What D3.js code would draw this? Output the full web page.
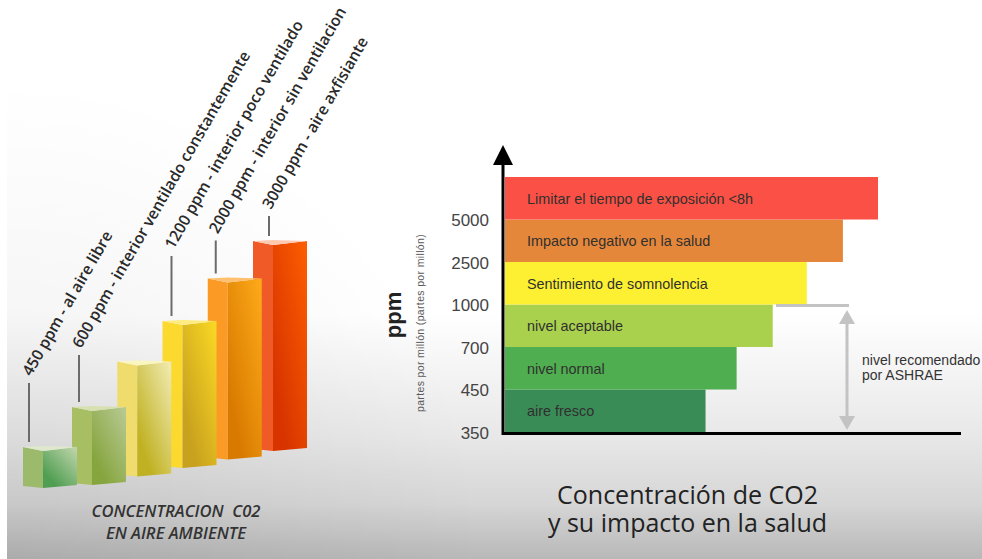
<!DOCTYPE html>
<html lang="es">
<head>
<meta charset="utf-8">
<title>Concentración de CO2</title>
<script src="https://cdn.jsdelivr.net/npm/d3@7/dist/d3.min.js"></script>
<style>
  html, body { margin: 0; padding: 0; background: #fff; }
  svg { display: block; }
  .sans { font-family: "Open Sans", sans-serif; }
  .arial { font-family: "Liberation Sans", Arial, sans-serif; }
</style>
</head>
<body>
<svg id="chart" width="982" height="559"></svg>
<script>
// Outdoor and indoor CO2 bars (left panel)
const barPpm = [450, 600, 900, 1200, 2000, 3000];
const barLeftColors = ["#9cba6c", "#a8be62", "#efdc6c", "#fbd92e", "#fc9a26", "#f05a26"];
const barTopColors = ["#bcd3a8", "#b6c890", "#efe9ac", "#f8d624", "#fca818", "#fb5c00"];
const barBottomColors = ["#4f9e52", "#86a53e", "#c0b122", "#c8a11e", "#d87a00", "#d83400"];
const barRimColors = ["#dfe8cc", "#d6e0b0", "#fbf5c0", "#ffec80", "#ffc070", "#ffc8b0"];
const ppmNotes = [
  "450 ppm - al aire libre",
  "600 ppm - interior ventilado constantemente",
  "1200 ppm - interior poco ventilado",
  "2000 ppm - interior sin ventilacion",
  "3000 ppm - aire axfisiante"
];
const notedPpm = [450, 600, 1200, 2000, 3000];
const leaderLengths = [59, 47, 60, 33, 20];
const panelCaption = ["CONCENTRACION  C02", "EN AIRE AMBIENTE"];

// Health impact levels (right panel), listed from the bottom band upward
const levelNames = [
  "aire fresco", "nivel normal", "nivel aceptable",
  "Sentimiento de somnolencia", "Impacto negativo en la salud",
  "Limitar el tiempo de exposición <8h"
];
const levelReach = [200, 231, 267, 301, 337, 372];
const levelColors = ["#3a8c57", "#4fae4f", "#aad14d", "#fdf032", "#e5873a", "#fb5045"];
const ppmTicks = ["350", "450", "700", "1000", "2500", "5000"];
const ashraeNote = ["nivel recomendado", "por ASHRAE"];
const chartTitle = ["Concentración de CO2", "y su impacto en la salud"];

const svg = d3.select("#chart");
const defs = svg.append("defs");

// Backdrop fading to grey toward the bottom of the frame
const backdrop = defs.append("linearGradient").attr("id", "backdrop")
  .attr("x1", 0).attr("y1", 0).attr("x2", 0).attr("y2", 1);
[[0, "#ffffff"], [0.56, "#ffffff"], [0.78, "#e8e8e8"], [0.9, "#d6d6d6"], [1, "#b8b8b8"]]
  .forEach(([o, c]) => backdrop.append("stop").attr("offset", o).attr("stop-color", c));
svg.append("rect").attr("x", 7).attr("y", 0).attr("width", 975).attr("height", 559)
  .attr("fill", "url(#backdrop)");

// Slightly deeper shade in the lower left corner
const corner = defs.append("radialGradient").attr("id", "corner")
  .attr("gradientUnits", "userSpaceOnUse").attr("cx", 7).attr("cy", 559).attr("r", 480);
corner.append("stop").attr("offset", 0).attr("stop-color", "#000").attr("stop-opacity", 0.07);
corner.append("stop").attr("offset", 1).attr("stop-color", "#000").attr("stop-opacity", 0);
svg.append("rect").attr("x", 7).attr("y", 79).attr("width", 975).attr("height", 480)
  .attr("fill", "url(#corner)");

// Left panel scales: slot position and floor line run along the perspective
const slot = d3.scaleLinear().domain([0, 1, 5]).range([23, 72, 253]);
const floorY = d3.scaleLinear().domain([0, 1, 5]).range([486, 483, 449]);
const barHeight = d3.scaleLinear().domain(barPpm).range([39, 76, 113, 145, 179, 208]);
const leftFace = 20, rightFace = 34, dip = 4;

const bars = barPpm.map((ppm, i) => ({ ppm, i })).reverse();

bars.forEach(d => {
  const g = defs.append("linearGradient").attr("id", "face" + d.i)
    .attr("x1", 0.9).attr("y1", 0).attr("x2", 0.2).attr("y2", 0.8);
  g.append("stop").attr("offset", 0).attr("stop-color", barTopColors[d.i]);
  g.append("stop").attr("offset", 1).attr("stop-color", barBottomColors[d.i]);
});

const barGroups = svg.append("g").selectAll("g").data(bars).join("g");
const polyPoints = pts => pts.map(p => p.join(",")).join(" ");

barGroups.append("polygon").attr("fill", d => barLeftColors[d.i])
  .attr("points", d => {
    const x = slot(d.i), y = floorY(d.i), h = barHeight(d.ppm);
    return polyPoints([[x, y - h], [x + leftFace, y - h + dip], [x + leftFace, y + 2], [x, y]]);
  });
barGroups.append("polygon").attr("fill", d => `url(#face${d.i})`)
  .attr("points", d => {
    const x = slot(d.i), y = floorY(d.i), h = barHeight(d.ppm);
    return polyPoints([[x + leftFace, y - h + dip], [x + leftFace + rightFace, y - h],
      [x + leftFace + rightFace, y - 1], [x + leftFace, y + 2]]);
  });
barGroups.append("polygon").attr("fill", d => barRimColors[d.i])
  .attr("points", d => {
    const x = slot(d.i), y = floorY(d.i), h = barHeight(d.ppm);
    return polyPoints([[x, y - h], [x + leftFace, y - h - 1], [x + leftFace + rightFace, y - h],
      [x + leftFace, y - h + dip]]);
  });

// Leader lines and slanted notes above the bars
const notes = notedPpm.map((ppm, n) => {
  const i = barPpm.indexOf(ppm);
  return { ppm, i, text: ppmNotes[n], len: leaderLengths[n] };
});
const leaderX = d => slot(d.i) + (d.i === 0 ? 6 : d.i === 1 ? 7 : d.i === 3 ? 9 : d.i === 4 ? 8 : 16);
const leaderBase = d => floorY(d.i) - barHeight(d.ppm) - 5;

svg.append("g").selectAll("line").data(notes).join("line")
  .attr("x1", leaderX).attr("x2", leaderX)
  .attr("y1", leaderBase).attr("y2", d => leaderBase(d) - d.len)
  .attr("stroke", "#6b6b6b").attr("stroke-width", 2);

svg.append("g").selectAll("text").data(notes).join("text")
  .attr("class", "sans")
  .attr("transform", d => `translate(${leaderX(d) + 2},${leaderBase(d) - d.len - 6}) rotate(-60)`)
  .attr("font-size", 15.7).attr("font-weight", 600).attr("fill", "#2a2a2a")
  .text(d => d.text);

svg.append("g").selectAll("text").data(panelCaption).join("text")
  .attr("class", "sans")
  .attr("x", 176).attr("y", (d, i) => 517 + i * 22)
  .attr("text-anchor", "middle").attr("font-size", 16.6).attr("font-style", "italic")
  .attr("font-weight", 600).attr("fill", "#333").style("white-space", "pre")
  .text(d => d);

// Right panel scales
const axisX = 505;
const bandY = d3.scaleBand().domain(levelNames).range([432, 177]);
const reachX = d3.scaleLinear().domain([0, 372]).range([axisX, 878]);
const tickY = d3.scalePoint().domain(ppmTicks).range([433, 220.5]);

svg.append("g").selectAll("rect").data(levelNames).join("rect")
  .attr("x", axisX)
  .attr("y", d => bandY(d))
  .attr("width", (d, i) => reachX(levelReach[i]) - axisX)
  .attr("height", bandY.bandwidth())
  .attr("fill", (d, i) => levelColors[i]);

svg.append("g").selectAll("text").data(levelNames).join("text")
  .attr("class", "arial")
  .attr("x", 527)
  .attr("y", d => bandY(d) + bandY.bandwidth() / 2 + 5.5)
  .attr("font-size", 14.4).attr("fill", "#303030")
  .text(d => d);

const tickAxis = svg.append("g").attr("transform", "translate(489,0)")
  .call(d3.axisLeft(tickY).tickSize(0).tickPadding(0));
tickAxis.select(".domain").remove();
tickAxis.selectAll("text").attr("font-size", 17).attr("fill", "#444")
  .style("font-family", '"Liberation Sans", Arial, sans-serif');

// Axis lines with the arrowhead on top
svg.append("line").attr("x1", 503).attr("x2", 503).attr("y1", 160).attr("y2", 435)
  .attr("stroke", "#000").attr("stroke-width", 3);
svg.append("line").attr("x1", 502).attr("x2", 961).attr("y1", 433.5).attr("y2", 433.5)
  .attr("stroke", "#000").attr("stroke-width", 3);
svg.append("path").attr("d", d3.line()([[503, 145], [513, 165], [493, 165]]) + "Z").attr("fill", "#000");

svg.append("text").attr("class", "arial")
  .attr("transform", "translate(401,315) rotate(-90)")
  .attr("text-anchor", "middle").attr("font-size", 22).attr("font-weight", 700).attr("fill", "#222")
  .text("ppm");
svg.append("text").attr("class", "arial")
  .attr("transform", "translate(424,323) rotate(-90)")
  .attr("text-anchor", "middle").attr("font-size", 10.5).attr("letter-spacing", 0.35)
  .attr("fill", "#5a5a5a")
  .text("partes por millón (partes por millón)");

// ASHRAE recommended range bracket
const bracket = "#c3c3c3";
svg.append("line").attr("x1", 776).attr("x2", 849).attr("y1", 305.5).attr("y2", 305.5)
  .attr("stroke", bracket).attr("stroke-width", 3);
svg.append("line").attr("x1", 847).attr("x2", 847).attr("y1", 314).attr("y2", 424)
  .attr("stroke", bracket).attr("stroke-width", 3);
svg.append("path").attr("d", d3.line()([[847, 310], [855, 324], [839, 324]]) + "Z").attr("fill", bracket);
svg.append("path").attr("d", d3.line()([[847, 430], [855, 416], [839, 416]]) + "Z").attr("fill", bracket);

svg.append("g").selectAll("text").data(ashraeNote).join("text")
  .attr("class", "arial")
  .attr("x", 862).attr("y", (d, i) => 365 + i * 15)
  .attr("font-size", 14).attr("fill", "#333")
  .text(d => d);

// Two-line title set as one text block
svg.append("text").attr("class", "sans")
  .attr("text-anchor", "middle").attr("font-size", 25).attr("fill", "#222")
  .selectAll("tspan").data(chartTitle).join("tspan")
  .attr("x", 687.5).attr("y", (d, i) => 504 + i * 28)
  .text(d => d);
</script>
</body>
</html>
